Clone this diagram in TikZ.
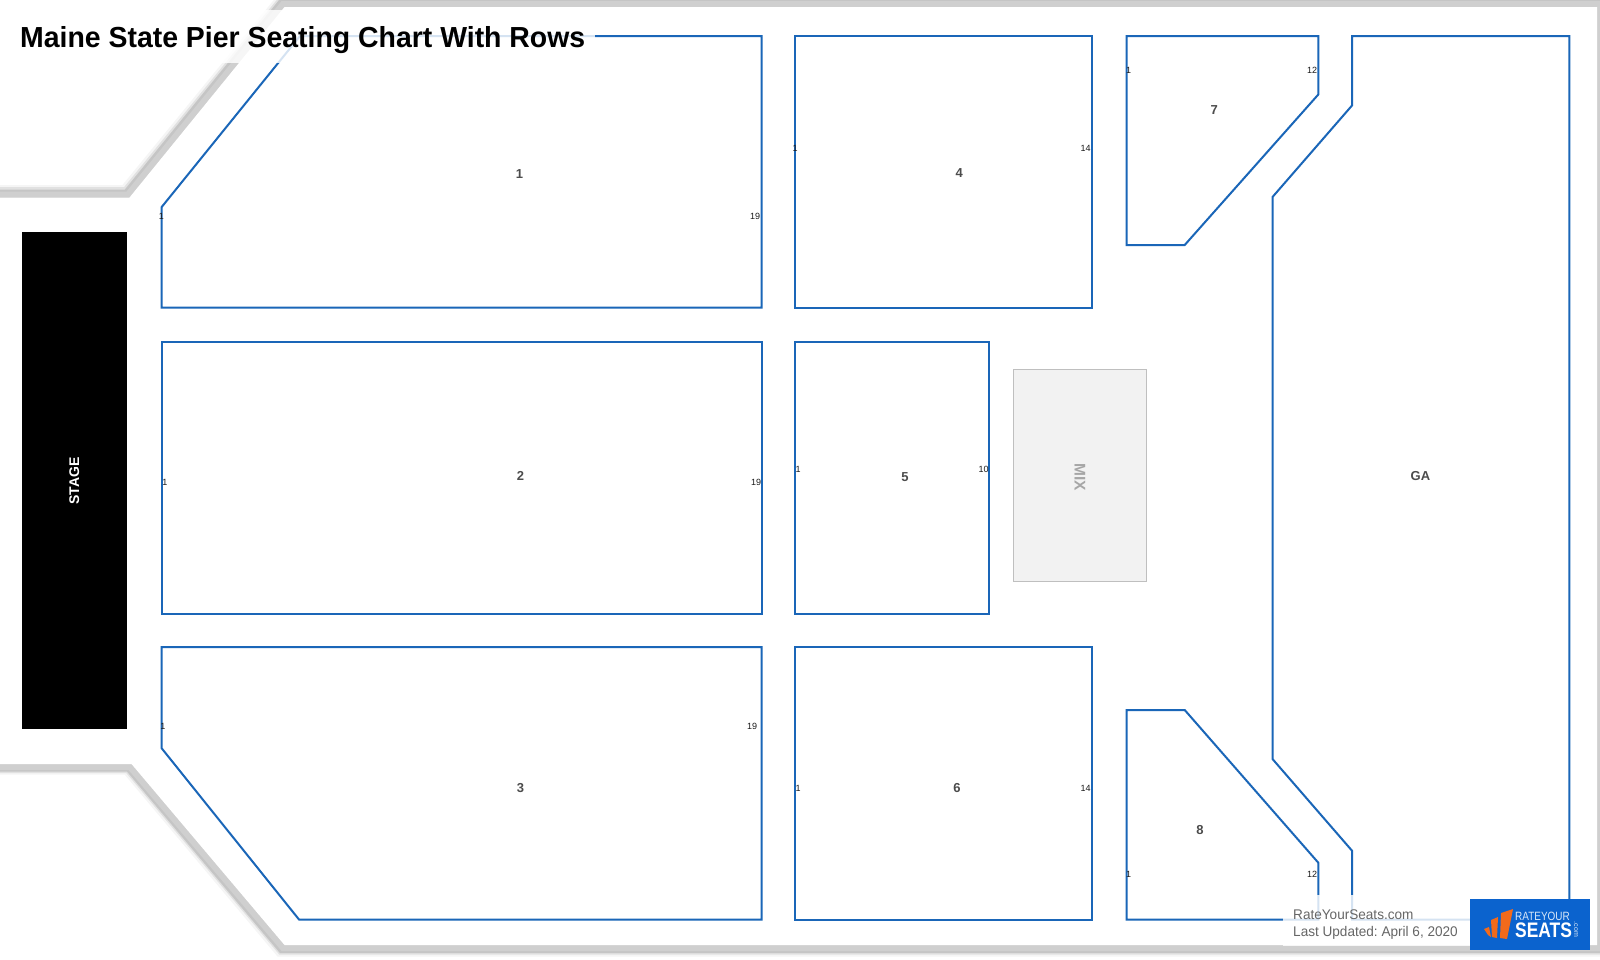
\documentclass[tikz,border=0pt]{standalone}
\usepackage{fontspec}
\setmainfont{Liberation Sans}
\definecolor{seatblue}{HTML}{1A66B8}
\definecolor{logoblue}{HTML}{0B63CE}
\definecolor{logoorange}{HTML}{F26A1B}
\definecolor{wallgray}{HTML}{CFCFCF}
\tikzset{
  section/.style={draw=seatblue, line width=2pt, line join=miter},
  secname/.style={text=black!70, inner sep=0pt, font=\bfseries\fontsize{13}{16}\selectfont},
  rowname/.style={text=black!90, inner sep=0pt, font=\fontsize{9}{10}\selectfont},
  footname/.style={text=black!60, inner sep=0pt, anchor=base west, xscale=0.97, font=\fontsize{14}{16}\selectfont},
  veil/.style={fill=white, fill opacity=0.82, draw=none}
}
\frenchspacing
\begin{document}
\begin{tikzpicture}[x=1pt,y=-1pt]
      \useasboundingbox (0,0) rectangle (1600,959);
      \fill[white] (0,0) rectangle (1600,959);

      % venue wall with its soft shadow
      \draw[black, opacity=0.04, line width=15pt] (-10,192.5) -- (126,192.5) -- (281,3) -- (1599,3) -- (1599,949) -- (281,949) -- (128,767) -- (-10,767);
      \draw[black, opacity=0.08, line width=12pt] (-10,193) -- (127,193) -- (282,3) -- (1599,3) -- (1599,948.5) -- (282,948.5) -- (129,767) -- (-10,767);
      \draw[black, opacity=0.12, line width=9pt] (-10,194) -- (127,194) -- (282,3.5) -- (1599,3.5) -- (1599,948.5) -- (282,948.5) -- (129,767) -- (-10,767);
      \draw[wallgray, line width=6pt] (-10,194.5) -- (128,194.5) -- (283,4) -- (1599,4) -- (1599,948) -- (283,948) -- (130,767) -- (-10,767);
      \fill[white] (-10,197.5) -- (129.5,197.5) -- (284.5,7) -- (1597,7) -- (1597,945) -- (284.5,945) -- (131.5,764) -- (-10,764) -- cycle;

      % stage and mix
      \node (stage) at (74.2,480) [fill=black, minimum width=105pt, minimum height=497pt, inner sep=0pt] {};
      \node (stagename) at (74.2,481) [rotate=90, text=white, inner sep=0pt, font=\bfseries\fontsize{14}{16}\selectfont] {STAGE};
      \node (mix) at (1079.7,475.5) [draw=black!25, fill=black!5, line width=0.8pt, minimum width=133pt, minimum height=212pt, inner sep=0pt] {};
      \node (mixname) at (1080,477) [rotate=-90, text=black!35, inner sep=0pt, font=\bfseries\fontsize{15.5}{16}\selectfont] {MIX};

      % sections
      \draw[section] (161.7,207) -- (161.7,307.5) -- (761.5,307.5) -- (761.5,36) -- (300,36) -- cycle;
      \draw[section] (161.7,342) rectangle (761.5,613.5);
      \draw[section] (161.7,647) -- (761.5,647) -- (761.5,919.5) -- (299,919.5) -- (161.7,748.3) -- cycle;
      \draw[section] (795,36) rectangle (1092,307.5);
      \draw[section] (795,342) rectangle (989,613.5);
      \draw[section] (795,647) rectangle (1092,919.5);
      \draw[section] (1126.5,36) -- (1318.3,36) -- (1318.3,94.5) -- (1184.7,245) -- (1126.5,245) -- cycle;
      \draw[section] (1126.5,710) -- (1184.7,710) -- (1318.3,862.7) -- (1318.3,919.5) -- (1126.5,919.5) -- cycle;
      \draw[section] (1352,36) -- (1569.4,36) -- (1569.4,919.5) -- (1352,919.5) -- (1352,850.7) -- (1272.5,759) -- (1272.5,197) -- (1352,105.5) -- cycle;

      % section names
      \node (name1) at (519.4,174.5) [secname] {1};
      \node (name2) at (520.4,475.5) [secname] {2};
      \node (name3) at (520.4,787.8) [secname] {3};
      \node (name4) at (959.2,173.5) [secname] {4};
      \node (name5) at (905,477.5) [secname] {5};
      \node (name6) at (957,787.8) [secname] {6};
      \node (name7) at (1214.3,110.2) [secname] {7};
      \node (name8) at (1200,829.6) [secname] {8};
      \node (namega) at (1420.4,476.5) [secname] {GA};

      % row numbers
      \node (row1a) at (161.5,216) [rowname] {1};
      \node (row1b) at (755,216.3) [rowname] {19};
      \node (row2a) at (165,482.7) [rowname] {1};
      \node (row2b) at (756,482.7) [rowname] {19};
      \node (row3a) at (163,726.5) [rowname] {1};
      \node (row3b) at (752,726.5) [rowname] {19};
      \node (row4a) at (795,148) [rowname] {1};
      \node (row4b) at (1085.7,148) [rowname] {14};
      \node (row5a) at (798,469.4) [rowname] {1};
      \node (row5b) at (983.5,469) [rowname] {10};
      \node (row6a) at (798,788.8) [rowname] {1};
      \node (row6b) at (1085.7,788.8) [rowname] {14};
      \node (row7a) at (1128.6,70.4) [rowname] {1};
      \node (row7b) at (1312,70.4) [rowname] {12};
      \node (row8a) at (1128.6,874.5) [rowname] {1};
      \node (row8b) at (1312,874.5) [rowname] {12};

      % title
      \fill[veil] (0,10) rectangle (595,63);
      \node (title) at (20,47.5) [anchor=base west, inner sep=0pt, xscale=0.98, text=black, font=\bfseries\fontsize{29}{34}\selectfont] {Maine State Pier Seating Chart With Rows};

      % footer
      \fill[veil] (1283,895) rectangle (1470,946);
      \node (site) at (1293,919) [footname] {RateYourSeats.com};
      \node (updated) at (1293,936) [footname] {Last Updated: April 6, 2020};

      % logo
      \node (logo) at (1530,924.5) [fill=logoblue, minimum width=120pt, minimum height=51pt, inner sep=0pt] {};
      \fill[logoorange] (1484,929) -- (1489,927) -- (1491,937) -- (1488,935) -- cycle;
      \fill[logoorange] (1491,920) -- (1498,917) -- (1497,938) -- (1492,937) -- cycle;
      \fill[logoorange] (1501,913) -- (1513,909) -- (1507,939) -- (1500,938) -- cycle;
      \node (logorate) at (1515,920) [anchor=base west, inner sep=0pt, xscale=0.83, text=white!85!logoblue, font=\fontsize{12}{12}\selectfont] {RATEYOUR};
      \node (logoseats) at (1515,937) [anchor=base west, inner sep=0pt, xscale=0.83, text=white, font=\bfseries\fontsize{21}{21}\selectfont] {SEATS};
      \node (logocom) at (1576,929.5) [rotate=-90, inner sep=0pt, text=white!85!logoblue, font=\fontsize{7}{7}\selectfont] {.com};
\end{tikzpicture}
\end{document}
